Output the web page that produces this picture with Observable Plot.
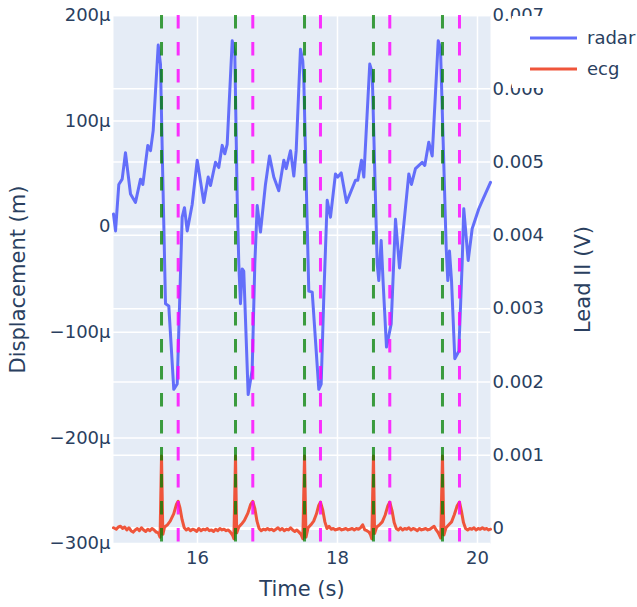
<!DOCTYPE html>
<html><head><meta charset="utf-8">
<script src="https://cdn.jsdelivr.net/npm/d3@7"></script>
<script src="https://cdn.jsdelivr.net/npm/@observablehq/plot@0.6"></script>
<style>
html,body{margin:0;padding:0;background:#fff;overflow:hidden;}
#wrap{position:relative;width:637px;height:607px;font-family:"DejaVu Sans",sans-serif;}
#wrap svg{display:block;}
#legend{position:absolute;left:512px;top:16px;width:125px;height:72px;background:#fff;}
</style></head><body><div id="wrap"><div id="legend"></div></div>
<script>
// ---- data ----
const radarTime = [14.8, 14.829, 14.876, 14.924, 14.971, 15.043, 15.114, 15.186, 15.219, 15.290, 15.329, 15.367, 15.439, 15.471, 15.504, 15.543, 15.590, 15.661, 15.710, 15.781, 15.814, 15.853, 15.924, 15.996, 16.090, 16.153, 16.186, 16.257, 16.304, 16.353, 16.390, 16.424, 16.496, 16.533, 16.567, 16.590, 16.614, 16.639, 16.661, 16.724, 16.781, 16.819, 16.853, 16.900, 16.971, 17.029, 17.090, 17.161, 17.233, 17.267, 17.329, 17.376, 17.410, 17.471, 17.504, 17.519, 17.590, 17.639, 17.733, 17.767, 17.804, 17.853, 17.900, 17.971, 18.004, 18.053, 18.129, 18.257, 18.290, 18.343, 18.376, 18.461, 18.496, 18.567, 18.590, 18.624, 18.653, 18.700, 18.767, 18.829, 18.886, 19.019, 19.057, 19.114, 19.210, 19.247, 19.304, 19.353, 19.439, 19.471, 19.519, 19.553, 19.576, 19.600, 19.629, 19.676, 19.733, 19.781, 19.804, 19.867, 19.924, 20.019, 20.071, 20.186];
// displacement in micrometres
const radarMicrometre = [12, -4, 40, 45, 70, 31, 23, 45, 40, 77, 72, 91, 172, 154, 47, -73, -75, -154, -149, 9, 18, -4, 21, 63, 23, 47, 39, 61, 56, 77, 69, 78, 176, 164, 28, -35, -73, -40, -42, -159, -136, -35, 20, -5, 40, 67, 47, 34, 63, 55, 72, 48, 72, 168, 157, 138, -61, -62, -154, -149, -67, 25, 9, 50, 47, 51, 23, 44, 44, 63, 47, 154, 146, -35, -51, -13, -54, -114, -92, 7, -39, 50, 40, 55, 61, 58, 80, 67, 176, 170, 59, -20, -51, -23, -51, -125, -118, -35, 17, -32, -2, 17, 25, 42];

const ecgTime = [14.80, 14.84, 14.87, 14.90, 14.93, 14.96, 14.99, 15.02, 15.05, 15.08, 15.11, 15.14, 15.17, 15.20, 15.23, 15.26, 15.29, 15.32, 15.35, 15.38, 15.41, 15.44, 15.465, 15.486, 15.505, 15.53, 15.57, 15.61, 15.66, 15.70, 15.724, 15.75, 15.78, 15.81, 15.84, 15.87, 15.90, 15.93, 15.96, 15.99, 16.02, 16.05, 16.08, 16.11, 16.14, 16.17, 16.20, 16.23, 16.26, 16.29, 16.32, 16.35, 16.38, 16.41, 16.44, 16.47, 16.50, 16.52, 16.543, 16.56, 16.59, 16.63, 16.67, 16.72, 16.76, 16.79, 16.82, 16.85, 16.88, 16.91, 16.94, 16.97, 17.00, 17.03, 17.06, 17.09, 17.12, 17.15, 17.18, 17.21, 17.24, 17.27, 17.30, 17.33, 17.36, 17.39, 17.42, 17.45, 17.48, 17.505, 17.529, 17.55, 17.58, 17.62, 17.66, 17.70, 17.73, 17.757, 17.79, 17.82, 17.85, 17.88, 17.91, 17.94, 17.97, 18.00, 18.03, 18.06, 18.09, 18.12, 18.15, 18.18, 18.21, 18.24, 18.27, 18.30, 18.33, 18.36, 18.39, 18.42, 18.45, 18.47, 18.49, 18.514, 18.53, 18.56, 18.60, 18.64, 18.68, 18.72, 18.747, 18.78, 18.81, 18.84, 18.87, 18.90, 18.93, 18.96, 18.99, 19.02, 19.05, 19.08, 19.11, 19.14, 19.17, 19.20, 19.23, 19.26, 19.29, 19.32, 19.35, 19.38, 19.41, 19.44, 19.475, 19.50, 19.52, 19.55, 19.59, 19.63, 19.67, 19.71, 19.743, 19.77, 19.80, 19.83, 19.86, 19.89, 19.92, 19.95, 19.98, 20.01, 20.04, 20.07, 20.10, 20.13, 20.16, 20.186];
// Lead II in millivolts
const ecgMillivolt = [0.01, -0.01, 0.02, 0.03, 0.00, 0.02, -0.02, 0.01, -0.03, -0.05, -0.02, 0.00, -0.03, 0.01, -0.02, -0.04, -0.01, -0.03, 0.00, -0.02, -0.05, -0.06, -0.12, 0.99, -0.08, 0.02, 0.05, 0.10, 0.20, 0.33, 0.37, 0.28, 0.12, 0.01, -0.02, 0.00, -0.03, -0.01, -0.02, -0.04, 0.00, -0.03, -0.01, -0.02, 0.00, -0.03, -0.02, -0.04, -0.01, -0.03, 0.00, -0.02, -0.01, -0.03, -0.02, -0.05, -0.09, -0.14, 0.99, -0.06, 0.02, 0.06, 0.11, 0.21, 0.33, 0.37, 0.27, 0.10, 0.00, -0.03, -0.01, -0.02, 0.00, -0.02, -0.01, -0.03, -0.01, 0.01, -0.02, 0.00, -0.03, -0.01, -0.02, 0.01, -0.02, -0.04, -0.02, -0.05, -0.08, -0.14, 0.99, -0.12, 0.01, 0.05, 0.10, 0.20, 0.31, 0.36, 0.25, 0.09, 0.00, 0.03, -0.01, 0.00, -0.02, -0.01, 0.00, -0.02, -0.01, 0.00, -0.02, -0.01, 0.00, -0.02, 0.00, -0.01, 0.01, 0.05, -0.02, -0.03, -0.05, -0.08, -0.14, 0.99, -0.07, 0.02, 0.05, 0.09, 0.18, 0.31, 0.36, 0.24, 0.08, 0.00, -0.02, 0.01, -0.02, 0.00, -0.01, 0.01, -0.02, 0.00, -0.01, -0.03, 0.00, -0.02, -0.01, 0.00, -0.02, -0.01, 0.01, 0.03, -0.02, -0.06, -0.13, 0.99, -0.09, 0.01, 0.05, 0.09, 0.19, 0.31, 0.36, 0.24, 0.08, 0.00, -0.02, 0.00, -0.01, 0.01, -0.02, 0.00, -0.01, 0.01, -0.01, 0.00, -0.02, -0.01];

const rPeakTimes = [15.486, 16.543, 17.529, 18.514, 19.500];
const tPeakTimes = [15.724, 16.790, 17.757, 18.747, 19.743];

const xTicks = [16, 18, 20];
const leftTicks = [-300, -200, -100, 0, 100, 200];
const leftTickLabels = ["−300µ", "−200µ", "−100µ", "0", "100µ", "200µ"];
const rightTicksVolt = [0, 0.001, 0.002, 0.003, 0.004, 0.005, 0.006, 0.007];
const rightTickLabels = ["0", "0.001", "0.002", "0.003", "0.004", "0.005", "0.006", "0.007"];

const seriesNames = ["radar", "ecg"];
const seriesColors = ["#636efa", "#EF553B"];

// ---- secondary axis alignment (Lead II range mapped onto displacement scale) ----
const xDomain = [14.8, 20.186];
const leftDomain = [-300, 200];
const rightDomainVolt = [-0.000205, 0.007];
const toLeft = v => leftDomain[0] + (v - rightDomainVolt[0]) / (rightDomainVolt[1] - rightDomainVolt[0]) * (leftDomain[1] - leftDomain[0]);

const radar = radarTime.map((t, i) => ({t, y: radarMicrometre[i]}));
const ecg = ecgTime.map((t, i) => ({t, y: toLeft(ecgMillivolt[i] / 1000)}));
const rightPos = rightTicksVolt.map(toLeft);
const leftLabel = new Map(leftTicks.map((d, i) => [d, leftTickLabels[i]]));
const rightLabel = new Map(rightPos.map((d, i) => [d, rightTickLabels[i]]));

const ink = "#2a3f5f";
const gridStyle = {stroke: "#ffffff", strokeOpacity: 1, strokeWidth: 1.5};

const chart = Plot.plot({
  width: 637, height: 607,
  marginLeft: 113, marginRight: 147, marginTop: 15, marginBottom: 64,
  style: {background: "transparent", fontFamily: "'DejaVu Sans', sans-serif", fontSize: "18px", color: ink, overflow: "visible", display: "block"},
  x: {domain: xDomain},
  y: {domain: leftDomain},
  marks: [
    Plot.frame({fill: "#E5ECF6", stroke: "none"}),
    Plot.gridX(xTicks, gridStyle),
    Plot.gridY(leftTicks, gridStyle),
    Plot.gridY(rightPos, gridStyle),
    Plot.ruleY([0], {stroke: "#ffffff", strokeWidth: 3}),
    Plot.ruleY([toLeft(0)], {stroke: "#ffffff", strokeWidth: 3}),
    Plot.line(radar, {x: "t", y: "y", stroke: seriesColors[0], strokeWidth: 3, strokeLinejoin: "round"}),
    Plot.line(ecg, {x: "t", y: "y", stroke: seriesColors[1], strokeWidth: 3, strokeLinejoin: "round"}),
    Plot.ruleX(rPeakTimes, {stroke: "green", strokeWidth: 3, strokeDasharray: "13.5,13.5", strokeOpacity: 0.75}),
    Plot.ruleX(tPeakTimes, {stroke: "magenta", strokeWidth: 3, strokeDasharray: "13.5,13.5", strokeOpacity: 0.8}),
    Plot.axisX(xTicks, {tickSize: 0, tickPadding: 8, label: null, tickFormat: d => String(d), fontSize: 18}),
    Plot.axisY(leftTicks, {anchor: "left", tickSize: 0, tickPadding: 3, label: null, tickFormat: d => leftLabel.get(d), fontSize: 18}),
    Plot.axisY(rightPos, {anchor: "right", tickSize: 0, tickPadding: 2, label: null, tickFormat: d => rightLabel.get(d), fontSize: 18}),
    Plot.text(["Displacement (m)"], {frameAnchor: "left", textAnchor: "middle", dx: -95, rotate: -90, fontSize: 21, fill: ink}),
    Plot.text(["Lead II (V)"], {frameAnchor: "right", textAnchor: "middle", dx: 93, rotate: -90, fontSize: 21, fill: ink}),
    Plot.text(["Time (s)"], {frameAnchor: "bottom", textAnchor: "middle", dy: 52, fontSize: 21, fill: ink})
  ]
});
const wrap = document.getElementById("wrap");
wrap.insertBefore(chart, wrap.firstChild);

// legend
const lg = d3.select("#legend").append("svg").attr("width", 125).attr("height", 72);
seriesNames.forEach((name, i) => {
  const y = 22 + i * 31;
  lg.append("line").attr("x1", 18).attr("x2", 65).attr("y1", y).attr("y2", y)
    .attr("stroke", seriesColors[i]).attr("stroke-width", 3);
  lg.append("text").attr("x", 75).attr("y", y).attr("dy", "0.35em")
    .attr("fill", ink).attr("font-size", 18).attr("font-family", "'DejaVu Sans', sans-serif").text(name);
});
</script></body></html>
